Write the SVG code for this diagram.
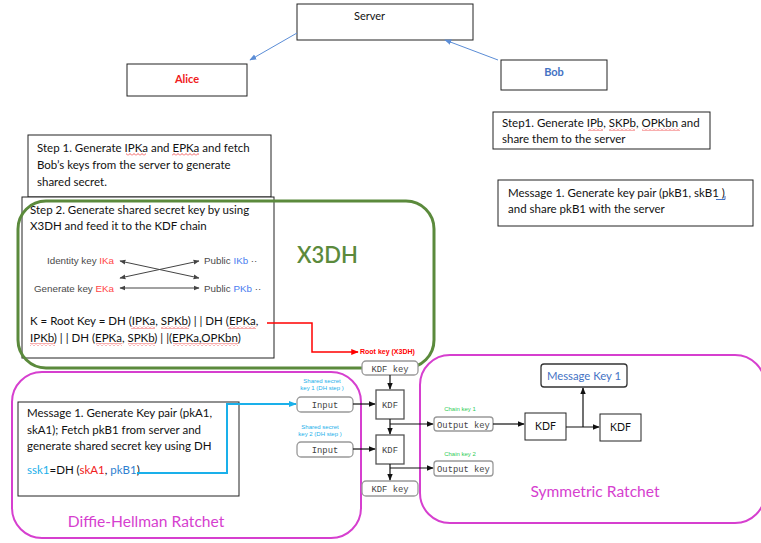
<svg xmlns="http://www.w3.org/2000/svg" width="761" height="543" viewBox="0 0 761 543">
<defs>
<style>
.box{fill:#fff;stroke:#222;stroke-width:1}
.t{font-family:Lato,"Open Sans","Liberation Sans",sans-serif;font-size:11.5px;fill:#111}
.sm{font-family:"Liberation Sans",Arial,sans-serif;font-size:9.8px;fill:#4a4a4a}
.mono{font-family:"Liberation Mono","DejaVu Sans Mono",monospace;font-size:8.8px;fill:#444}
.mb{fill:#fff;stroke:#999;stroke-width:1.3}
.tiny{font-family:"Liberation Sans",Arial,sans-serif;font-size:6px}
.ln{stroke:#111;stroke-width:1.2;fill:none}
.wv{fill:url(#wave)}
</style>
<pattern id="wave" width="4" height="3" patternUnits="userSpaceOnUse"><path d="M0,2.5 L2,0.5 L4,2.5" fill="none" stroke="#e33" stroke-width="0.8"/></pattern>
<marker id="ab" viewBox="0 0 10 10" refX="9" refY="5" markerWidth="7" markerHeight="7" orient="auto"><path d="M0,1 L10,5 L0,9 z" fill="#5b8dd6"/></marker>
<marker id="ak" viewBox="0 0 10 10" refX="9" refY="5" markerWidth="6" markerHeight="6" orient="auto-start-reverse"><path d="M0,1 L10,5 L0,9 z" fill="#111"/></marker>
<marker id="ag" viewBox="0 0 10 10" refX="9" refY="5" markerWidth="6" markerHeight="6" orient="auto-start-reverse"><path d="M0,1 L10,5 L0,9 z" fill="#444"/></marker>
<marker id="ar" viewBox="0 0 10 10" refX="9" refY="5" markerWidth="5" markerHeight="5" orient="auto"><path d="M0,1 L10,5 L0,9 z" fill="#f00"/></marker>
<marker id="ac" viewBox="0 0 10 10" refX="9" refY="5" markerWidth="4" markerHeight="4" orient="auto"><path d="M0,1 L10,5 L0,9 z" fill="#1ab0ea"/></marker>
</defs>
<rect width="761" height="543" fill="#fff"/>

<g id="server"><rect class="box" x="297" y="4" width="176" height="36"/><text class="t" x="354" y="20" style="font-size:11px">Server</text></g>
<g id="alice"><rect class="box" x="127" y="64" width="120" height="32"/><text x="187" y="83" text-anchor="middle" font-family="Lato,'Liberation Sans',sans-serif" font-size="11" font-weight="bold" fill="#f02020">Alice</text></g>
<g id="bob"><rect class="box" x="501" y="60" width="106" height="30"/><text x="554" y="76" text-anchor="middle" font-family="Lato,'Liberation Sans',sans-serif" font-size="11" font-weight="bold" fill="#4472c4">Bob</text></g>

<g id="alice-step1"><rect class="box" x="28" y="135" width="243" height="62"/>
<text class="t" x="37" y="152">Step 1. Generate IPKa and EPKa and fetch</text>
<text class="t" x="37" y="169">Bob’s keys from the server to generate</text>
<text class="t" x="37" y="186">shared secret.</text></g>

<g id="bob-step1"><rect class="box" x="493" y="112" width="217" height="37"/>
<text class="t" x="502" y="127">Step1. Generate IPb, SKPb, OPKbn and</text>
<text class="t" x="502" y="143">share them to the server</text></g>

<g id="bob-msg1"><rect class="box" x="498" y="180" width="255" height="46"/>
<text class="t" x="508" y="197">Message 1. Generate key pair (pkB1, skB1 )</text>
<text class="t" x="508" y="213">and share pkB1 with the server</text></g>

<g id="dh-ratchet"><rect x="12" y="372" width="349" height="166" rx="30" fill="none" stroke="#d63fcf" stroke-width="2"/>
<text x="146" y="527" text-anchor="middle" font-family="Lato,'Open Sans',sans-serif" font-size="15.6" fill="#d63fcf">Diffie-Hellman Ratchet</text></g>

<g id="sym-ratchet"><rect x="420" y="355" width="345" height="168" rx="30" fill="none" stroke="#d63fcf" stroke-width="2"/>
<text x="595" y="497" text-anchor="middle" font-family="Lato,'Open Sans',sans-serif" font-size="15.6" fill="#d63fcf">Symmetric Ratchet</text></g>

<g id="step2"><rect class="box" x="22" y="197" width="252" height="161"/>
<text class="t" x="30" y="214">Step 2. Generate shared secret key by using</text>
<text class="t" x="30" y="230">X3DH and feed it to the KDF chain</text>
<text class="sm" x="114" y="264" text-anchor="end">Identity key <tspan fill="#f44">IKa</tspan></text>
<text class="sm" x="114" y="292" text-anchor="end">Generate key <tspan fill="#f44">EKa</tspan></text>
<text class="sm" x="204" y="264">Public <tspan fill="#4a7cf0">IKb</tspan> ··</text>
<text class="sm" x="204" y="292">Public <tspan fill="#4a7cf0">PKb</tspan> ··</text>
<line x1="120" y1="261" x2="199" y2="278" stroke="#444" stroke-width="1" marker-start="url(#ag)" marker-end="url(#ag)"/>
<line x1="120" y1="278" x2="199" y2="261" stroke="#444" stroke-width="1" marker-start="url(#ag)" marker-end="url(#ag)"/>
<line x1="120" y1="288" x2="199" y2="288" stroke="#444" stroke-width="1" marker-start="url(#ag)" marker-end="url(#ag)"/>
<text class="t" x="30" y="325">K = Root Key = DH (IPKa, SPKb) | | DH (EPKa,</text>
<text class="t" x="30" y="342">IPKb) | | DH (EPKa, SPKb) | |(EPKa,OPKbn)</text></g>

<g id="x3dh"><rect x="18" y="201" width="416" height="167" rx="28" fill="none" stroke="#5b8a3c" stroke-width="3"/>
<text x="297" y="263" font-family="Lato,'Open Sans',sans-serif" font-size="22" font-weight="600" fill="#5b8a3c">X3DH</text></g>

<g id="alice-msg1"><rect class="box" x="18" y="402" width="221" height="94"/>
<text class="t" x="27" y="417">Message 1. Generate Key pair (pkA1,</text>
<text class="t" x="27" y="434">skA1); Fetch pkB1 from server and</text>
<text class="t" x="27" y="450">generate shared secret key using DH</text>
<text class="t" x="27" y="474"><tspan fill="#1ab0ea">ssk1</tspan>=DH (<tspan fill="#f02020">skA1</tspan>, <tspan fill="#2f7fd0">pkB1</tspan>)</text></g>

<g id="spell-underlines">
<rect class="wv" x="126" y="153" width="20" height="3"/>
<rect class="wv" x="172" y="153" width="27" height="3"/>
<rect class="wv" x="588" y="128" width="15" height="3"/>
<rect class="wv" x="609" y="128" width="26" height="3"/>
<rect class="wv" x="642" y="128" width="38" height="3"/>
<rect class="wv" x="131" y="326" width="24" height="3"/>
<rect class="wv" x="161" y="326" width="28" height="3"/>
<rect class="wv" x="228" y="326" width="28" height="3"/>
<rect class="wv" x="30" y="343" width="25" height="3"/>
<rect class="wv" x="96" y="343" width="26" height="3"/>
<rect class="wv" x="128" y="343" width="27" height="3"/>
<rect class="wv" x="173" y="343" width="65" height="3"/>
<path d="M716,199.5 H725 V196" fill="none" stroke="#4472c4" stroke-width="1"/>
</g>

<g id="root-key-label"><text class="tiny" x="360" y="354" style="font-size:7px" fill="#f00" font-weight="bold">Root key (X3DH)</text></g>
<g id="kdf-key-top"><rect class="mb" x="362" y="361" width="56" height="14" rx="4"/><text class="mono" x="390" y="371.5" text-anchor="middle">KDF key</text></g>
<g id="kdf-key-bottom"><rect class="mb" x="362" y="481" width="56" height="15" rx="4"/><text class="mono" x="390" y="492" text-anchor="middle">KDF key</text></g>
<g id="input1"><text class="tiny" x="322" y="383" fill="#1ab0ea" text-anchor="middle">Shared secret</text><text class="tiny" x="322" y="390" fill="#1ab0ea" text-anchor="middle">key 1 (DH step )</text>
<rect class="mb" x="297" y="397" width="56" height="15" rx="4"/><text class="mono" x="325" y="408" text-anchor="middle">Input</text></g>
<g id="input2"><text class="tiny" x="320" y="429" fill="#1ab0ea" text-anchor="middle">Shared secret</text><text class="tiny" x="320" y="436" fill="#1ab0ea" text-anchor="middle">key 2 (DH step )</text>
<rect class="mb" x="297" y="442" width="56" height="15" rx="4"/><text class="mono" x="325" y="453" text-anchor="middle">Input</text></g>
<g id="kdf1"><rect x="376" y="390" width="28" height="29" fill="#fff" stroke="#555" stroke-width="1.3"/><text class="mono" x="390" y="408" text-anchor="middle">KDF</text></g>
<g id="kdf2"><rect x="376" y="435" width="28" height="29" fill="#fff" stroke="#555" stroke-width="1.3"/><text class="mono" x="390" y="453" text-anchor="middle">KDF</text></g>
<g id="output1"><text class="tiny" x="460" y="411" fill="#2ecc55" text-anchor="middle">Chain key 1</text><rect class="mb" x="434" y="417" width="59" height="14" rx="3"/><text class="mono" x="463.5" y="427.5" text-anchor="middle">Output key</text></g>
<g id="output2"><text class="tiny" x="460" y="456" fill="#2ecc55" text-anchor="middle">Chain key 2</text><rect class="mb" x="434" y="461" width="59" height="15" rx="3"/><text class="mono" x="463.5" y="472" text-anchor="middle">Output key</text></g>
<g id="sym-kdf1"><rect class="box" x="525" y="413" width="41" height="27"/><text class="t" x="545.5" y="430" text-anchor="middle" style="font-size:10.5px">KDF</text></g>
<g id="sym-kdf2"><rect class="box" x="600" y="414" width="41" height="27"/><text class="t" x="620.5" y="431" text-anchor="middle" style="font-size:10.5px">KDF</text></g>
<g id="message-key1"><rect x="541" y="364" width="86" height="23" rx="3" fill="#fff" stroke="#333" stroke-width="1.3"/><text class="t" x="584" y="380" text-anchor="middle" style="font-size:11.3px;fill:#4472c4">Message Key 1</text></g>

<g id="connectors">
<line x1="297" y1="33" x2="250" y2="60" stroke="#5b8dd6" stroke-width="1" marker-end="url(#ab)"/>
<line x1="498" y1="60" x2="445" y2="40" stroke="#5b8dd6" stroke-width="1" marker-end="url(#ab)"/>
<polyline points="267,323 312,323 312,352 358,352" fill="none" stroke="#f00" stroke-width="1.5" marker-end="url(#ar)"/>
<polyline points="137,473 227,473 227,404 296,404" fill="none" stroke="#1ab0ea" stroke-width="2" marker-end="url(#ac)"/>
<line class="ln" x1="390" y1="375" x2="390" y2="389" marker-end="url(#ak)"/>
<line class="ln" x1="353" y1="404" x2="375" y2="404" marker-end="url(#ak)"/>
<line class="ln" x1="390" y1="419" x2="390" y2="434" marker-end="url(#ak)"/>
<line class="ln" x1="353" y1="449" x2="375" y2="449" marker-end="url(#ak)"/>
<line class="ln" x1="390" y1="464" x2="390" y2="480" marker-end="url(#ak)"/>
<line class="ln" x1="390" y1="424" x2="433" y2="424" marker-end="url(#ak)"/>
<line class="ln" x1="390" y1="468" x2="433" y2="468" marker-end="url(#ak)"/>
<line class="ln" x1="493" y1="424" x2="524" y2="424" marker-end="url(#ak)"/>
<line class="ln" x1="566" y1="427" x2="599" y2="427" marker-end="url(#ak)"/>
<polyline class="ln" points="583,427 583,388" marker-end="url(#ak)"/>
</g>
</svg>
